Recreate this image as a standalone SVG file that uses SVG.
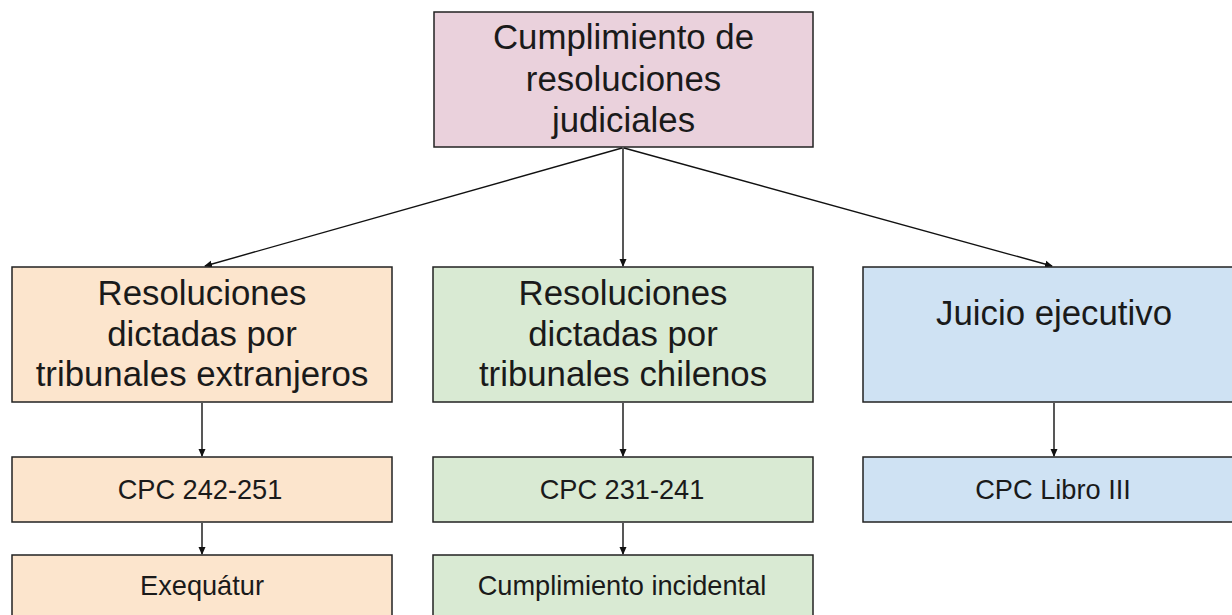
<svg xmlns="http://www.w3.org/2000/svg" width="1232" height="615" viewBox="0 0 1232 615">
<style>
.box{stroke:#222;stroke-width:1.5}
.pink{fill:#ead1dc}
.orange{fill:#fce5cd}
.green{fill:#d9ead3}
.blue{fill:#cfe2f3}
.big{font-family:"Liberation Sans",Arial,sans-serif;font-size:34.8px;fill:#1a1a1a;text-anchor:middle}
.small{font-family:"Liberation Sans",Arial,sans-serif;font-size:27.2px;fill:#1a1a1a;text-anchor:middle}
.conn{stroke:#111;stroke-width:1.4;fill:none;marker-end:url(#arrow)}
</style>
<defs>
<marker id="arrow" markerWidth="8" markerHeight="8" refX="7" refY="4" orient="auto" markerUnits="userSpaceOnUse">
<path d="M0,0.5 L8,4 L0,7.5 Z" fill="#111"/>
</marker>
</defs>
<rect width="1232" height="615" fill="#fff"/>
<g id="connectors">
<line class="conn" x1="622" y1="148" x2="205" y2="266"/>
<line class="conn" x1="623" y1="148" x2="623" y2="266"/>
<line class="conn" x1="624" y1="148" x2="1052" y2="266"/>
<line class="conn" x1="202" y1="403" x2="202" y2="456"/>
<line class="conn" x1="623" y1="403" x2="623" y2="456"/>
<line class="conn" x1="1054" y1="403" x2="1054" y2="456"/>
<line class="conn" x1="202" y1="523" x2="202" y2="554"/>
<line class="conn" x1="623" y1="523" x2="623" y2="554"/>
</g>
<g id="n-top">
<rect class="box pink" x="434" y="12" width="379" height="135"/>
<text class="big" x="623.5" y="49">Cumplimiento de</text>
<text class="big" x="623.5" y="91">resoluciones</text>
<text class="big" x="623.5" y="132">judiciales</text>
</g>
<g id="n-extranjeros">
<rect class="box orange" x="12" y="267" width="380" height="135"/>
<text class="big" x="202" y="305">Resoluciones</text>
<text class="big" x="202" y="346">dictadas por</text>
<text class="big" x="202" y="386">tribunales extranjeros</text>
</g>
<g id="n-chilenos">
<rect class="box green" x="433" y="267" width="380" height="135"/>
<text class="big" x="623" y="305">Resoluciones</text>
<text class="big" x="623" y="346">dictadas por</text>
<text class="big" x="623" y="386">tribunales chilenos</text>
</g>
<g id="n-ejecutivo">
<rect class="box blue" x="863" y="267" width="382" height="135"/>
<text class="big" x="1054" y="325">Juicio ejecutivo</text>
</g>
<g id="n-cpc242">
<rect class="box orange" x="12" y="457" width="380" height="65"/>
<text class="small" x="200" y="499">CPC 242-251</text>
</g>
<g id="n-cpc231">
<rect class="box green" x="433" y="457" width="380" height="65"/>
<text class="small" x="622" y="499">CPC 231-241</text>
</g>
<g id="n-libro3">
<rect class="box blue" x="863" y="457" width="382" height="65"/>
<text class="small" x="1053" y="499">CPC Libro III</text>
</g>
<g id="n-exequatur">
<rect class="box orange" x="12" y="555" width="380" height="65"/>
<text class="small" x="202" y="595">Exequátur</text>
</g>
<g id="n-incidental">
<rect class="box green" x="433" y="555" width="380" height="65"/>
<text class="small" x="622" y="595">Cumplimiento incidental</text>
</g>
</svg>
